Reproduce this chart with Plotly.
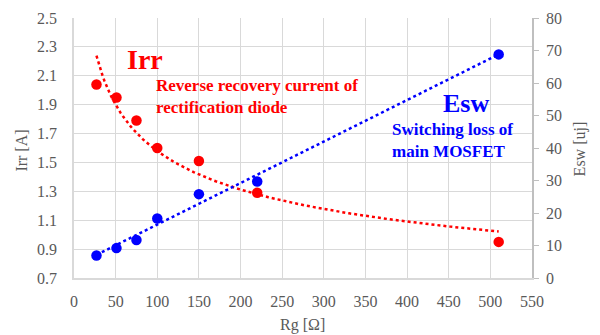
import numpy as np
import plotly.graph_objects as go

# Gate resistance values [ohm]
rg = [27, 51, 75, 100, 150, 220, 510]
# Reverse recovery current of the rectification diode [A]
irr = [2.04, 1.95, 1.79, 1.60, 1.51, 1.29, 0.95]
# Switching loss of the main MOSFET [uJ]
esw = [6.9, 9.2, 11.7, 18.3, 25.8, 29.7, 68.8]

RED = "#ff0000"
BLUE = "#0000ff"
GRAY = "#595959"
GRID = "#d9d9d9"
FONT = "Liberation Serif, DejaVu Serif, serif"

x = np.array(rg, dtype=float)
xs = np.linspace(x.min(), x.max(), 200)

# Power trendline for Irr (least squares in log-log space)
b, lna = np.polyfit(np.log(x), np.log(np.array(irr)), 1)
irr_fit = np.exp(lna) * xs ** b

# Linear trendline for Esw
m, c = np.polyfit(x, np.array(esw), 1)
esw_fit = m * xs + c

fig = go.Figure()
fig.add_trace(go.Scatter(x=xs, y=irr_fit, mode="lines",
                         line=dict(color=RED, width=2.5, dash="dot"),
                         hoverinfo="skip", showlegend=False))
fig.add_trace(go.Scatter(x=xs, y=esw_fit, mode="lines", yaxis="y2",
                         line=dict(color=BLUE, width=2.5, dash="dot"),
                         hoverinfo="skip", showlegend=False))
fig.add_trace(go.Scatter(x=rg, y=irr, mode="markers", name="Irr",
                         marker=dict(color=RED, size=10.5), showlegend=False))
fig.add_trace(go.Scatter(x=rg, y=esw, mode="markers", name="Esw", yaxis="y2",
                         marker=dict(color=BLUE, size=10.5), showlegend=False))

fig.update_layout(
    width=600, height=335,
    margin=dict(l=74, r=68, t=18, b=57),
    paper_bgcolor="white", plot_bgcolor="white",
    font=dict(family=FONT, size=16, color=GRAY),
    xaxis=dict(range=[0, 550], tick0=0, dtick=50, automargin=False,
               showgrid=True, gridcolor=GRID, gridwidth=1.3,
               showline=True, linecolor=GRID, linewidth=1.5,
               zeroline=False, ticks="", ticklabelstandoff=8),
    yaxis=dict(range=[0.7, 2.5], tick0=0.7, dtick=0.2, tickformat=".1f",
               automargin=False,
               showgrid=True, gridcolor=GRID, gridwidth=1.3,
               showline=True, linecolor=GRID, linewidth=1.5,
               zeroline=False, ticks="", ticklabelstandoff=12),
    yaxis2=dict(range=[0, 80], tick0=0, dtick=10, overlaying="y", side="right",
                automargin=False,
                showgrid=False, showline=True, linecolor="#bfbfbf", linewidth=1.5,
                zeroline=False, ticks="outside", ticklen=5, tickcolor="#bfbfbf",
                ticklabelstandoff=4),
)

# Axis titles
titles = [
    dict(text="Rg [Ω]", x=0.498, y=-0.181, angle=0),
    dict(text="Irr [A]", x=-0.1135, y=0.49, angle=-90),
    dict(text="Esw [uj]", x=1.105, y=0.495, angle=-90),
]
for t in titles:
    fig.add_annotation(xref="paper", yref="paper", xanchor="center",
                       yanchor="middle", showarrow=False, textangle=t["angle"],
                       text=t["text"], x=t["x"], y=t["y"],
                       font=dict(family=FONT, size=16, color=GRAY))

# Series labels
ann = [
    dict(text="Irr", x=61, y=2.21, size=28, color=RED),
    dict(text="Reverse recovery current of<br>rectification diode",
         x=96.6, y=1.957, size=17, color=RED),
    dict(text="Esw", x=441, y=1.909, size=26, color=BLUE),
    dict(text="Switching loss of<br>main MOSFET",
         x=379.5, y=1.655, size=17, color=BLUE),
]
for a in ann:
    fig.add_annotation(xref="x", yref="y", xanchor="left", yanchor="middle",
                       align="left", showarrow=False,
                       text=a["text"], x=a["x"], y=a["y"],
                       font=dict(family=FONT, size=a["size"], color=a["color"],
                                 weight=700))

fig.write_html("out.html")
